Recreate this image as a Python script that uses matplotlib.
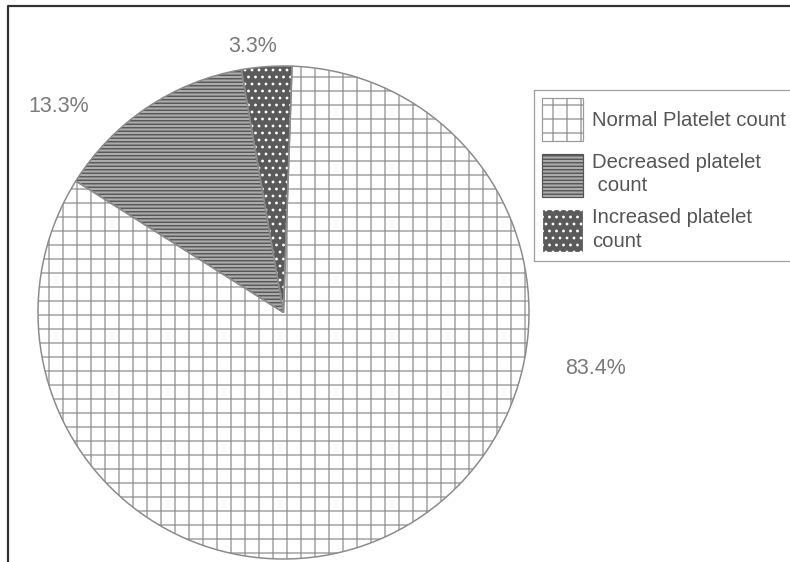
import matplotlib.pyplot as plt
from matplotlib.patches import Patch
from matplotlib.lines import Line2D

DPI = 84  # hatch spacing scales with dpi, 84 gives ~14px grid cells


def pt(px):
    # pixel size -> points at the chosen dpi
    return px * 72 / DPI


plt.rcParams['font.family'] = ['Liberation Sans', 'DejaVu Sans']
plt.rcParams['hatch.linewidth'] = pt(1.4)

# platelet count distribution (%)
categories = ['Normal Platelet count', 'Decreased platelet\n count', 'Increased platelet\ncount']
shares = [83.4, 13.3, 3.3]
pct_labels = ['83.4%', '13.3%', '3.3%']

hatches = ['+', '----', '..']
faces = ['white', '#acacac', '#5a5a5a']
hatch_cols = ['#9a9a9a', '#555555', 'white']

W, H = 790, 562
fig = plt.figure(figsize=(W / DPI, H / DPI), dpi=DPI)
fig.patch.set_facecolor('white')

# scan frame: top and left edges only
fig.add_artist(Line2D([8 / W, 8 / W, 1.0], [0, 1 - 6 / H, 1 - 6 / H], transform=fig.transFigure,
                      color='#333333', linewidth=pt(2.2)))

ax = fig.add_axes([38 / W, 3 / H, 491 / W, 493 / H])

wedges, _ = ax.pie(shares, startangle=88, counterclock=False,
                   wedgeprops=dict(linewidth=0))
for w, h, fc, hc in zip(wedges, hatches, faces, hatch_cols):
    w.set_facecolor(fc)
    w.set_edgecolor(hc)
    w.set_hatch(h)

# outlines on top of the hatched wedges
ax.pie(shares, startangle=88, counterclock=False,
       wedgeprops=dict(fill=False, edgecolor='#8a8a8a', linewidth=pt(1.5)))
ax.set_aspect('auto')
ax.set_xlim(-1.0, 1.0)
ax.set_ylim(-1.0, 1.0)

# percentage labels
label_pos = [(565 / W, 1 - 369 / H), (28 / W, 1 - 107 / H), (228 / W, 1 - 46 / H)]
for txt, (x, y) in zip(pct_labels, label_pos):
    fig.text(x, y, txt, fontsize=pt(21.5), color='#7a7a7a', va='center', ha='left')

handles = [Patch(facecolor=fc, edgecolor=hc, hatch=h, linewidth=0)
           for fc, hc, h in zip(faces, hatch_cols, hatches)]
leg = fig.legend(handles, categories, loc='upper left',
                 bbox_to_anchor=(534 / W, 1 - 90 / H), bbox_transform=fig.transFigure,
                 fontsize=pt(20.3), fancybox=False, frameon=True, edgecolor='#8a8a8a',
                 handlelength=2.0, handleheight=2.9, handletextpad=0.45,
                 labelspacing=0.55, borderpad=0.4, borderaxespad=0,
                 labelcolor='#555555')
leg.get_frame().set_linewidth(pt(1.3))
for t in leg.get_texts():
    t.set_linespacing(1.3)
for hp in leg.get_patches():
    hp.set_linewidth(pt(1.2))

fig.savefig('out.png', dpi=DPI, facecolor='white')
